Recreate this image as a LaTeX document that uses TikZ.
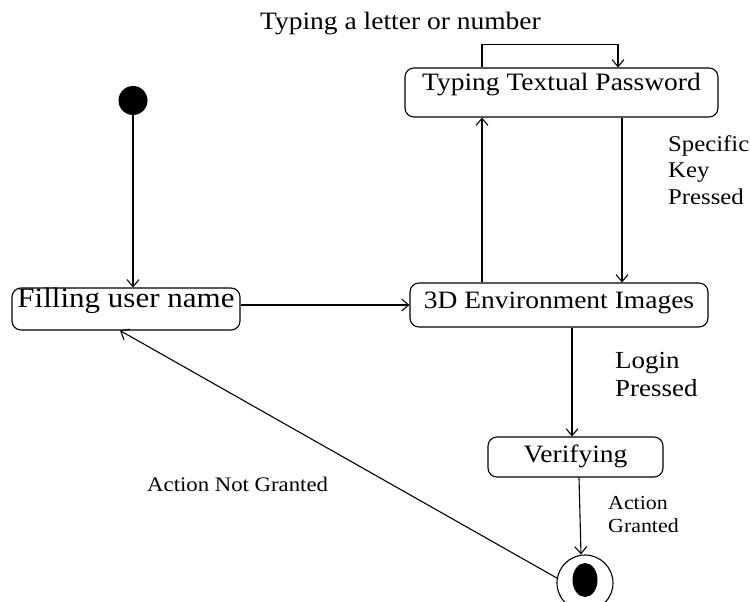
\documentclass[tikz,border=0pt]{standalone}
\usepackage{fontspec}
\setmainfont{Liberation Serif}
\newfontfamily\diagfont[FakeStretch=1.1]{Liberation Serif}
\usetikzlibrary{arrows.meta,calc}

\tikzset{
  state/.style={draw, rounded corners=9pt, inner xsep=0pt, inner ysep=0pt,
    line width=1.1pt, font=\diagfont\fontsize{25}{29}\selectfont},
  flow/.style={line width=1.1pt, -{Straight Barb[length=7pt,width=12pt,line width=1.1pt]}},
  lbl/.style={inner sep=0pt, align=left, font=\diagfont\fontsize{#1}{#1}\selectfont},
}

\begin{document}
\begin{tikzpicture}[x=1pt,y=-1pt]
  \useasboundingbox (0,0) rectangle (750,602);
  \clip (0,0) rectangle (750,602);

  % states
  \node[fill=black, circle, minimum size=29pt, inner sep=0pt] (init) at (133,100.5) {};
  \node[state, minimum width=228pt, text height=19pt, text depth=23pt,
        font=\diagfont\fontsize{28.2}{31}\selectfont] (fill) at (126,309) {Filling user name};
  \node[state, minimum width=298pt, text height=25pt, text depth=19pt] (env) at (559,305) {3D Environment Images};
  \node[state, minimum width=313pt, text height=23pt, text depth=26pt] (typ) at (561.5,92.5) {Typing Textual Password};
  \node[state, minimum width=175pt, text height=25pt, text depth=15pt] (ver) at (575.5,457) {Verifying};
  \node[draw, circle, minimum size=56pt, inner sep=0pt, line width=1.1pt] (fin) at (585,583) {};
  \fill (585,580) ellipse [x radius=12.5pt, y radius=17pt];

  % transitions
  \draw[flow] (init) -- (fill.north -| init);
  \draw[flow] (fill.east |- 0,305) -- (env.west |- 0,305);
  \draw[flow] (env.north -| 482,0) -- (typ.south -| 482,0);
  \draw[flow] (typ.south -| 622,0) -- (env.north -| 622,0);
  \draw[flow] (typ.north -| 482,0) -- ++(0,-23) -| (typ.north -| 618,0);
  \draw[flow] (env.south -| 572,0) -- (ver.north -| 572,0);
  \draw[flow] (ver.south -| 579,0) -- (fin.north -| 581,0);
  \draw[flow] (fin.170) -- (fill.south -| 120,0);

  % labels
  \node[lbl=25, anchor=base] (tl) at (400.5,30) {Typing a letter or number};
  \node[lbl=22.5, anchor=north west, font=\diagfont\fontsize{22.5}{26.5}\selectfont] (sk) at (668,135) {Specific\\Key\\Pressed};
  \node[lbl=24.5, anchor=north west, font=\diagfont\fontsize{24.5}{28}\selectfont] (lp) at (615,352) {Login\\Pressed};
  \node[lbl=19.9, anchor=north west, font=\diagfont\fontsize{19.9}{23}\selectfont] (ag) at (608,496) {Action\\Granted};
  \node[lbl=20.7, anchor=base west] (ng) at (147,491) {Action Not Granted};
\end{tikzpicture}
\end{document}
